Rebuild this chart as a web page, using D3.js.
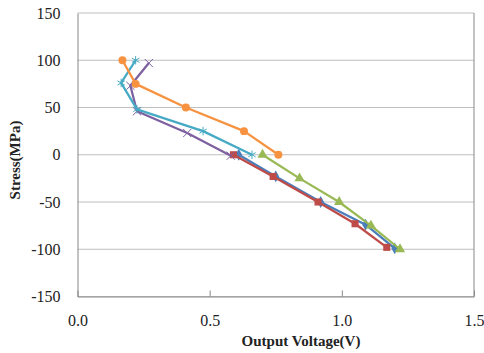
<!DOCTYPE html>
<html><head><meta charset="utf-8">
<script src="https://cdn.jsdelivr.net/npm/d3@7"></script>
<style>body{margin:0;background:#fff}svg{display:block}
.t{font-family:"Liberation Serif","Times New Roman",serif}</style>
</head><body>
<svg id="c" width="484" height="353"></svg>
<script>
const xTicks = [0, 0.5, 1.0, 1.5];
const yTicks = [-150, -100, -50, 0, 50, 100, 150];
const blueV = [0.61, 0.75, 0.92, 1.09, 1.20];
const blueS = [0, -23, -50, -74, -99];
const redV = [0.59, 0.74, 0.91, 1.05, 1.17];
const redS = [0, -23, -50, -73, -98];
const greenV = [0.70, 0.84, 0.99, 1.11, 1.22];
const greenS = [0, -25, -50, -75, -100];
const purpleV = [0.27, 0.20, 0.225, 0.415, 0.58];
const purpleS = [97, 73, 46, 23, -1];
const cyanV = [0.22, 0.165, 0.225, 0.475, 0.66];
const cyanS = [100, 76, 48, 25, 0];
const orangeV = [0.17, 0.22, 0.41, 0.63, 0.76];
const orangeS = [100, 75, 50, 25, 0];

const series = [
  {v: blueV, s: blueS, color: "#4A7EBB", marker: "diamond"},
  {v: redV, s: redS, color: "#BE4B48", marker: "square"},
  {v: greenV, s: greenS, color: "#98B954", marker: "triangle"},
  {v: purpleV, s: purpleS, color: "#7D60A0", marker: "x"},
  {v: cyanV, s: cyanS, color: "#46AAC5", marker: "star"},
  {v: orangeV, s: orangeS, color: "#F69240", marker: "circle"}
];

const svg = d3.select("#c");
const L = 77.5, R = 474, T = 13, B = 296.5;
const x = d3.scaleLinear().domain([0, 1.5]).range([L, R]);
const y = d3.scaleLinear().domain([-150, 150]).range([B, T]);

svg.append("g").selectAll("line").data(yTicks).join("line")
  .attr("x1", L).attr("x2", R)
  .attr("y1", d => y(d)).attr("y2", d => y(d))
  .attr("stroke", "#BFBFBF").attr("stroke-width", 1);

const xAxis = d3.axisBottom(x).tickValues(xTicks).tickFormat(d => d.toFixed(1))
  .tickSizeInner(-6).tickSizeOuter(0).tickPadding(18);
const gx = svg.append("g").attr("transform", `translate(0,${B})`).call(xAxis)
  .attr("font-family", null).attr("font-size", null);
gx.select(".domain").attr("stroke", "#888");
gx.selectAll(".tick line").attr("stroke", "#888");
gx.selectAll("text").attr("class", "t").style("font-size", "16px").attr("fill", "#222");

const yAxis = d3.axisLeft(y).tickValues(yTicks).tickFormat(d => String(d)).tickSize(0).tickPadding(17);
const gy = svg.append("g").attr("transform", `translate(${L},0)`).call(yAxis)
  .attr("font-family", null).attr("font-size", null);
gy.select(".domain").attr("stroke", "#888");
gy.selectAll("text").attr("class", "t").style("font-size", "16px").attr("fill", "#222");

svg.append("line").attr("x1", R).attr("x2", R).attr("y1", T).attr("y2", B)
  .attr("stroke", "#888");

svg.append("text").attr("class", "t").attr("x", 301).attr("y", 346)
  .attr("text-anchor", "middle")
  .attr("font-weight", "bold").style("font-size", "15px").attr("fill", "#222")
  .text("Output Voltage(V)");
svg.append("text").attr("class", "t").attr("transform", "translate(20,160) rotate(-90)")
  .attr("text-anchor", "middle")
  .attr("font-weight", "bold").style("font-size", "15px").attr("fill", "#222")
  .text("Stress(MPa)");

const line = d3.line().x(d => x(d[0])).y(d => y(d[1]));
const sym = {
  diamond: d3.symbol().type(d3.symbolDiamond).size(40),
  square: d3.symbol().type(d3.symbolSquare).size(50),
  triangle: d3.symbol().type(d3.symbolTriangle).size(45),
  circle: d3.symbol().type(d3.symbolCircle).size(50),
  x: d3.symbol().type(d3.symbolTimes).size(45),
  star: d3.symbol().type(d3.symbolAsterisk).size(50)
};

series.forEach(sr => {
  const pts = sr.v.map((v, i) => [v, sr.s[i]]);
  const g = svg.append("g");
  g.append("path").datum(pts).attr("d", line).attr("fill", "none")
    .attr("stroke", sr.color).attr("stroke-width", 2.25).attr("stroke-linejoin", "round");
  const stroked = sr.marker === "x" || sr.marker === "star";
  g.selectAll("path.m").data(pts).join("path").attr("class", "m")
    .attr("transform", d => `translate(${x(d[0])},${y(d[1])})`)
    .attr("d", sym[sr.marker]())
    .attr("fill", stroked ? "none" : sr.color)
    .attr("stroke", stroked ? sr.color : "none")
    .attr("stroke-width", 1);
});
</script>
</body></html>
